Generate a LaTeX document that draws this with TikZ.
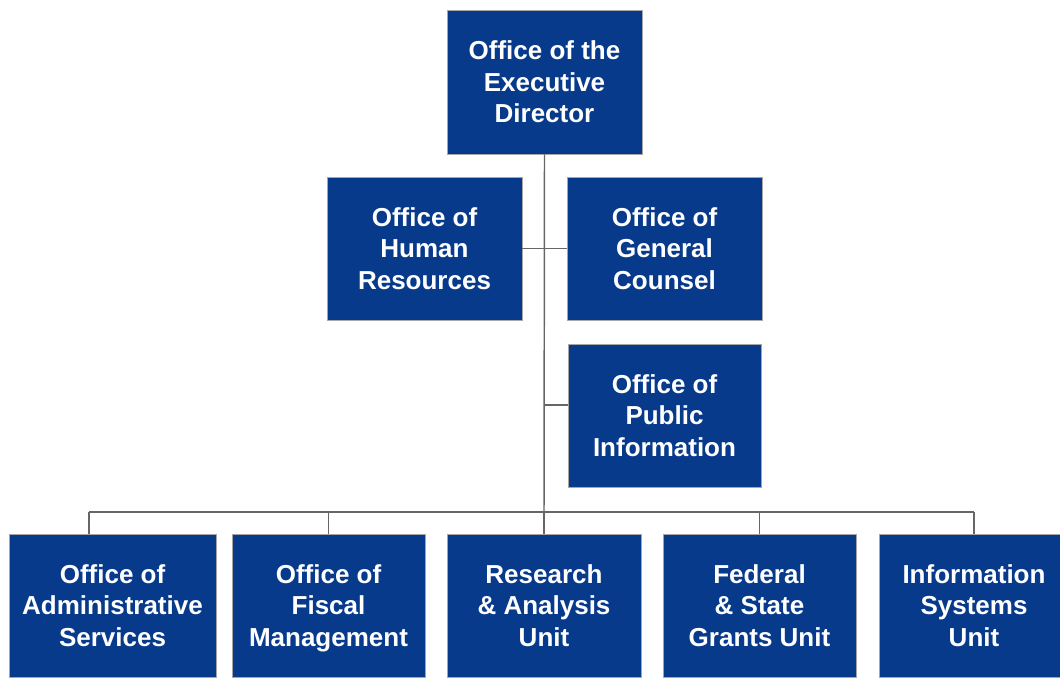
\documentclass[tikz,border=0pt]{standalone}
\usepackage{fontspec}
\setmainfont{Liberation Sans}
\definecolor{unitblue}{RGB}{8,58,140}
\begin{document}
\begin{tikzpicture}[x=0.75pt,y=-0.75pt,
		unit/.style={draw=gray!70,line width=0.6pt,fill=unitblue,text=white,
			font=\fontsize{19.5}{23.5}\selectfont\bfseries,align=center,
			inner sep=0pt,minimum width=146.25pt,minimum height=107.25pt},
		link/.style={draw=black!60,line width=1.1pt}]
		\useasboundingbox (0,0) rectangle (1060,679);
		\clip (0,0) rectangle (1060,679);

		% top and staff offices
		\node[unit,minimum height=108pt] (exec) at (544.5,82) {Office of the\\Executive\\Director};
		\node[unit] (hr) at (424.5,248.5) {Office of\\Human\\Resources};
		\node[unit] (gc) at (664.5,248.5) {Office of\\General\\Counsel};
		\node[unit,minimum width=144.75pt] (pi) at (664.5,415.5) {Office of\\Public\\Information};

		% units
		\node[unit,minimum width=155.25pt] (admin) at (112.5,605.5) {Office of\\Administrative\\Services};
		\node[unit,minimum width=144.75pt] (fiscal) at (328.5,605.5) {Office of\\Fiscal\\Mana\smash{g}ement};
		\node[unit,minimum width=145.5pt] (research) at (544,605.5) {Research\\\& Analysis\\Unit};
		\node[unit,minimum width=144.75pt] (grants) at (759.5,605.5) {Federal\\\& State\\Grants Unit};
		\node[unit,minimum width=142.5pt] (infosys) at (974,605.5) {Information\\Systems\\Unit};

		\coordinate (bus) at (544,512);
		\coordinate (busleft) at (89,512);
		\coordinate (pijoin) at (544,405);

		\draw[link] (exec.south) -- (bus);
		\draw[link] (hr.east) -- (gc.west);
		\draw[link] (pijoin) -- (pijoin -| pi.west);
		\draw[link] (busleft) -- (bus -| infosys.north);
		\draw[link] (busleft) -- (busleft |- admin.north);
		\foreach \n in {fiscal,research,grants,infosys} {\draw[link] (bus -| \n.north) -- (\n.north);}
	\end{tikzpicture}
\end{document}
